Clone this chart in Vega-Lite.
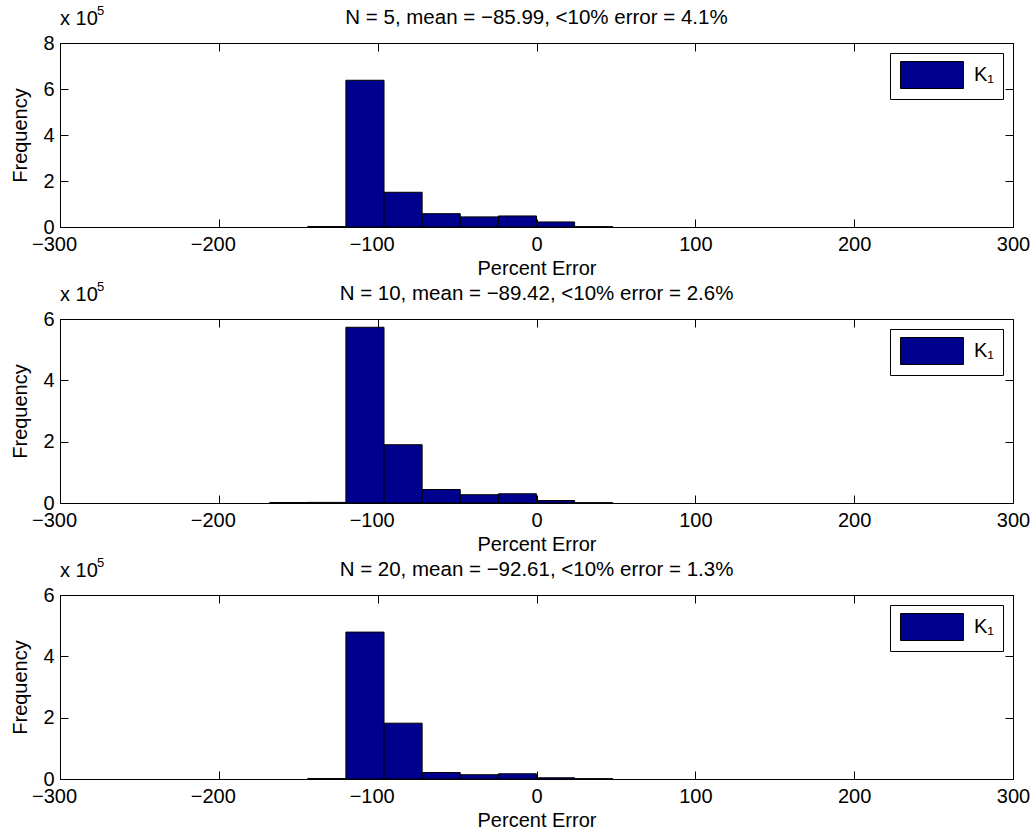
{
  "$schema": "https://vega.github.io/schema/vega-lite/v6.json",
  "background": "white",
  "padding": {"left": 10, "top": 4, "right": 5, "bottom": 0},
  "autosize": {"type": "pad"},
  "config": {
    "font": "Liberation Sans",
    "view": {"stroke": "black", "strokeWidth": 1},
    "axis": {
      "labelFont": "Liberation Sans",
      "labelFontSize": 20,
      "labelColor": "black",
      "titleFont": "Liberation Sans",
      "titleFontSize": 20,
      "titleFontWeight": "normal",
      "titleColor": "black",
      "tickColor": "black",
      "tickWidth": 1,
      "grid": false,
      "domain": false,
      "labelFlush": false,
      "labelOverlap": false,
      "labelBound": false
    },
    "legend": {
      "title": null,
      "orient": "top-right",
      "offset": 10,
      "padding": 8,
      "strokeColor": "black",
      "fillColor": "white",
      "symbolType": "M-2.33,-1H2.33V1H-2.33Z",
      "symbolSize": 729,
      "symbolOffset": 20,
      "symbolStrokeColor": "black",
      "symbolStrokeWidth": 1,
      "labelFont": "Liberation Sans",
      "labelFontSize": 20,
      "labelColor": "black",
      "labelOffset": 28
    },
    "text": {"font": "Liberation Sans", "color": "black"}
  },
  "datasets": {
    "n5": [
      {"lo": -144, "hi": -120, "count": 2000},
      {"lo": -120, "hi": -96, "count": 638000},
      {"lo": -96, "hi": -72, "count": 151000},
      {"lo": -72, "hi": -48, "count": 58000},
      {"lo": -48, "hi": -24, "count": 44000},
      {"lo": -24, "hi": 0, "count": 48000},
      {"lo": 0, "hi": 24, "count": 22000},
      {"lo": 24, "hi": 48, "count": 1500}
    ],
    "n10": [
      {"lo": -168, "hi": -144, "count": 1500},
      {"lo": -144, "hi": -120, "count": 2000},
      {"lo": -120, "hi": -96, "count": 573000},
      {"lo": -96, "hi": -72, "count": 190000},
      {"lo": -72, "hi": -48, "count": 44000},
      {"lo": -48, "hi": -24, "count": 27000},
      {"lo": -24, "hi": 0, "count": 30000},
      {"lo": 0, "hi": 24, "count": 8000},
      {"lo": 24, "hi": 48, "count": 1000}
    ],
    "n20": [
      {"lo": -144, "hi": -120, "count": 1500},
      {"lo": -120, "hi": -96, "count": 479000},
      {"lo": -96, "hi": -72, "count": 182000},
      {"lo": -72, "hi": -48, "count": 21000},
      {"lo": -48, "hi": -24, "count": 14000},
      {"lo": -24, "hi": 0, "count": 17000},
      {"lo": 0, "hi": 24, "count": 4000},
      {"lo": 24, "hi": 48, "count": 1000}
    ]
  },
  "spacing": 92,
  "bounds": "flush",
  "resolve": {
    "scale": {"x": "independent", "y": "independent", "color": "independent"},
    "legend": {"color": "independent"}
  },
  "vconcat": [
    {
      "width": 953,
      "height": 184,
      "resolve": {"axis": {"x": "independent", "y": "independent"}},
      "layer": [
        {
          "data": {"name": "n5"},
          "mark": {"type": "bar", "stroke": "black", "strokeWidth": 1},
          "encoding": {
            "x": {"field": "lo", "type": "quantitative",
                  "scale": {"domain": [-300, 300], "nice": false},
                  "axis": {"orient": "bottom", "values": [-300, -200, -100, 0, 100, 200, 300], "offset": -8, "tickSize": 8,
                           "labelPadding": 7, "labelOffset": {"condition": {"test": "datum.value < 0", "value": -6}, "value": 0},
                           "title": "Percent Error", "titlePadding": 4}},
            "x2": {"field": "hi"},
            "y": {"field": "count", "type": "quantitative",
                  "scale": {"domain": [0, 800000], "nice": false},
                  "axis": {"orient": "left", "values": [0, 200000, 400000, 600000, 800000], "offset": -8, "tickSize": 8,
                           "labelPadding": 6, "labelExpr": "datum.value / 100000", "title": "Frequency", "titlePadding": 12}},
            "y2": {"datum": 0},
            "color": {"datum": "K₁", "type": "nominal", "scale": {"range": ["#00008F"]}}
          }
        },
        {
          "data": {"values": [{}]},
          "mark": {"type": "text", "text": "N = 5, mean = −85.99, <10% error = 4.1%", "align": "center", "baseline": "alphabetic", "dy": -19, "fontSize": 20.5},
          "encoding": {
            "x": {"datum": 0, "type": "quantitative", "scale": {"domain": [-300, 300], "nice": false},
                  "axis": {"orient": "top", "values": [-300, -200, -100, 0, 100, 200, 300], "offset": -8, "tickSize": 8, "labels": false, "title": null}},
            "y": {"datum": 800000, "type": "quantitative", "scale": {"domain": [0, 800000], "nice": false},
                  "axis": {"orient": "right", "values": [0, 200000, 400000, 600000, 800000], "offset": -8, "tickSize": 8, "labels": false, "title": null}}
          }
        },
        {
          "data": {"values": [{}]},
          "mark": {"type": "text", "text": "x 10", "align": "left", "baseline": "alphabetic", "dy": -18, "fontSize": 20},
          "encoding": {
            "x": {"datum": -300, "type": "quantitative", "scale": {"domain": [-300, 300], "nice": false}, "axis": null},
            "y": {"datum": 800000, "type": "quantitative", "scale": {"domain": [0, 800000], "nice": false}, "axis": null}
          }
        },
        {
          "data": {"values": [{}]},
          "mark": {"type": "text", "text": "5", "align": "left", "baseline": "alphabetic", "dx": 37, "dy": -28, "fontSize": 13},
          "encoding": {
            "x": {"datum": -300, "type": "quantitative", "scale": {"domain": [-300, 300], "nice": false}, "axis": null},
            "y": {"datum": 800000, "type": "quantitative", "scale": {"domain": [0, 800000], "nice": false}, "axis": null}
          }
        }
      ]
    },
    {
      "width": 953,
      "height": 184,
      "resolve": {"axis": {"x": "independent", "y": "independent"}},
      "layer": [
        {
          "data": {"name": "n10"},
          "mark": {"type": "bar", "stroke": "black", "strokeWidth": 1},
          "encoding": {
            "x": {"field": "lo", "type": "quantitative",
                  "scale": {"domain": [-300, 300], "nice": false},
                  "axis": {"orient": "bottom", "values": [-300, -200, -100, 0, 100, 200, 300], "offset": -8, "tickSize": 8,
                           "labelPadding": 7, "labelOffset": {"condition": {"test": "datum.value < 0", "value": -6}, "value": 0},
                           "title": "Percent Error", "titlePadding": 4}},
            "x2": {"field": "hi"},
            "y": {"field": "count", "type": "quantitative",
                  "scale": {"domain": [0, 600000], "nice": false},
                  "axis": {"orient": "left", "values": [0, 200000, 400000, 600000], "offset": -8, "tickSize": 8,
                           "labelPadding": 6, "labelExpr": "datum.value / 100000", "title": "Frequency", "titlePadding": 12}},
            "y2": {"datum": 0},
            "color": {"datum": "K₁", "type": "nominal", "scale": {"range": ["#00008F"]}}
          }
        },
        {
          "data": {"values": [{}]},
          "mark": {"type": "text", "text": "N = 10, mean = −89.42, <10% error = 2.6%", "align": "center", "baseline": "alphabetic", "dy": -19, "fontSize": 20.5},
          "encoding": {
            "x": {"datum": 0, "type": "quantitative", "scale": {"domain": [-300, 300], "nice": false},
                  "axis": {"orient": "top", "values": [-300, -200, -100, 0, 100, 200, 300], "offset": -8, "tickSize": 8, "labels": false, "title": null}},
            "y": {"datum": 600000, "type": "quantitative", "scale": {"domain": [0, 600000], "nice": false},
                  "axis": {"orient": "right", "values": [0, 200000, 400000, 600000], "offset": -8, "tickSize": 8, "labels": false, "title": null}}
          }
        },
        {
          "data": {"values": [{}]},
          "mark": {"type": "text", "text": "x 10", "align": "left", "baseline": "alphabetic", "dy": -18, "fontSize": 20},
          "encoding": {
            "x": {"datum": -300, "type": "quantitative", "scale": {"domain": [-300, 300], "nice": false}, "axis": null},
            "y": {"datum": 600000, "type": "quantitative", "scale": {"domain": [0, 600000], "nice": false}, "axis": null}
          }
        },
        {
          "data": {"values": [{}]},
          "mark": {"type": "text", "text": "5", "align": "left", "baseline": "alphabetic", "dx": 37, "dy": -28, "fontSize": 13},
          "encoding": {
            "x": {"datum": -300, "type": "quantitative", "scale": {"domain": [-300, 300], "nice": false}, "axis": null},
            "y": {"datum": 600000, "type": "quantitative", "scale": {"domain": [0, 600000], "nice": false}, "axis": null}
          }
        }
      ]
    },
    {
      "width": 953,
      "height": 184,
      "resolve": {"axis": {"x": "independent", "y": "independent"}},
      "layer": [
        {
          "data": {"name": "n20"},
          "mark": {"type": "bar", "stroke": "black", "strokeWidth": 1},
          "encoding": {
            "x": {"field": "lo", "type": "quantitative",
                  "scale": {"domain": [-300, 300], "nice": false},
                  "axis": {"orient": "bottom", "values": [-300, -200, -100, 0, 100, 200, 300], "offset": -8, "tickSize": 8,
                           "labelPadding": 7, "labelOffset": {"condition": {"test": "datum.value < 0", "value": -6}, "value": 0},
                           "title": "Percent Error", "titlePadding": 4}},
            "x2": {"field": "hi"},
            "y": {"field": "count", "type": "quantitative",
                  "scale": {"domain": [0, 600000], "nice": false},
                  "axis": {"orient": "left", "values": [0, 200000, 400000, 600000], "offset": -8, "tickSize": 8,
                           "labelPadding": 6, "labelExpr": "datum.value / 100000", "title": "Frequency", "titlePadding": 12}},
            "y2": {"datum": 0},
            "color": {"datum": "K₁", "type": "nominal", "scale": {"range": ["#00008F"]}}
          }
        },
        {
          "data": {"values": [{}]},
          "mark": {"type": "text", "text": "N = 20, mean = −92.61, <10% error = 1.3%", "align": "center", "baseline": "alphabetic", "dy": -19, "fontSize": 20.5},
          "encoding": {
            "x": {"datum": 0, "type": "quantitative", "scale": {"domain": [-300, 300], "nice": false},
                  "axis": {"orient": "top", "values": [-300, -200, -100, 0, 100, 200, 300], "offset": -8, "tickSize": 8, "labels": false, "title": null}},
            "y": {"datum": 600000, "type": "quantitative", "scale": {"domain": [0, 600000], "nice": false},
                  "axis": {"orient": "right", "values": [0, 200000, 400000, 600000], "offset": -8, "tickSize": 8, "labels": false, "title": null}}
          }
        },
        {
          "data": {"values": [{}]},
          "mark": {"type": "text", "text": "x 10", "align": "left", "baseline": "alphabetic", "dy": -18, "fontSize": 20},
          "encoding": {
            "x": {"datum": -300, "type": "quantitative", "scale": {"domain": [-300, 300], "nice": false}, "axis": null},
            "y": {"datum": 600000, "type": "quantitative", "scale": {"domain": [0, 600000], "nice": false}, "axis": null}
          }
        },
        {
          "data": {"values": [{}]},
          "mark": {"type": "text", "text": "5", "align": "left", "baseline": "alphabetic", "dx": 37, "dy": -28, "fontSize": 13},
          "encoding": {
            "x": {"datum": -300, "type": "quantitative", "scale": {"domain": [-300, 300], "nice": false}, "axis": null},
            "y": {"datum": 600000, "type": "quantitative", "scale": {"domain": [0, 600000], "nice": false}, "axis": null}
          }
        }
      ]
    }
  ]
}
